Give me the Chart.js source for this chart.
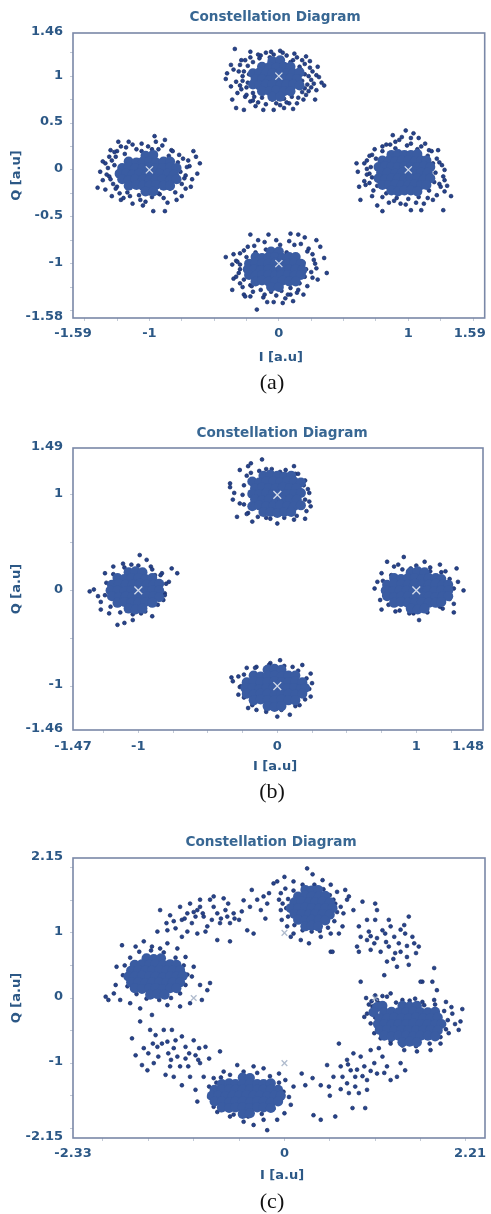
<!DOCTYPE html>
<html>
<head>
<meta charset="utf-8">
<title>Constellation Diagrams</title>
<script src="https://cdn.jsdelivr.net/npm/chart.js@4/dist/chart.umd.min.js"></script>
<style>
  html, body { margin: 0; padding: 0; background: #ffffff; }
  #page { position: relative; width: 491px; height: 1214px; background: #ffffff; overflow: hidden; }
  canvas { position: absolute; left: 0; }
</style>
</head>
<body>
<div id="page">
  <canvas id="panelA" width="491" height="400" style="top:0px"></canvas>
  <canvas id="panelB" width="491" height="410" style="top:400px"></canvas>
  <canvas id="panelC" width="491" height="404" style="top:810px"></canvas>
</div>
<script>
// ---------- Shared ----------
const IDEAL = [[0, 1], [1, 0], [0, -1], [-1, 0]];

// ---------- Panel (a) ----------
const A_X_LABELS = [-1.59, -1, 0, 1, 1.59];
const A_Y_LABELS = [-1.58, -1, -0.5, 0, 0.5, 1, 1.46];
const A_X_MINOR = [-1.5, -1.25, -1, -0.75, -0.5, -0.25, 0, 0.25, 0.5, 0.75, 1, 1.25, 1.5];
const A_Y_MINOR = [-1.5, -1.25, -1, -0.75, -0.5, -0.25, 0, 0.25, 0.5, 0.75, 1, 1.25];

const A_TOP_CORE = [
  [-0.05,1.16],[0.01,1.17],
  [-0.13,1.1],[-0.07,1.1],[-0.02,1.09],[0.04,1.1],[0.09,1.1],
  [-0.2,1.03],[-0.15,1.04],[-0.1,1.03],[-0.05,1.03],[0.01,1.04],[0.06,1.03],[0.11,1.03],[0.16,1.04],
  [-0.18,0.97],[-0.13,0.97],[-0.07,0.96],[-0.02,0.97],[0.04,0.97],[0.09,0.98],[0.14,0.97],
  [-0.2,0.91],[-0.15,0.9],[-0.1,0.91],[-0.05,0.91],[0.01,0.9],[0.06,0.91],[0.11,0.91],[0.16,0.9],
  [-0.13,0.84],[-0.07,0.84],[-0.02,0.85],[0.04,0.84],[0.09,0.84],
  [-0.05,0.78],[0.01,0.78]
];
const A_TOP_DOTS = [
  [-0.34,1.29],[-0.22,1.26],[0.01,1.27],[-0.40,1.03],[-0.41,0.97],[-0.37,0.89],[-0.36,0.75],[-0.33,0.66],
  [-0.27,0.64],[-0.18,0.68],[-0.12,0.64],[-0.04,0.64],[0.04,0.66],[0.11,0.65],[0.19,0.75],[0.28,0.75],
  [0.33,0.93],[0.35,0.9],[0.30,1.10],[0.24,1.16],[0.11,1.17],[0.06,1.22],[-0.37,1.12],[-0.31,1.05],
  [-0.26,1.17],[0.29,1.01],[0.23,0.84],[0.29,0.85],[-0.32,0.82],[-0.22,0.73],[0.01,0.69],[0.14,0.71],
  [-0.10,1.25],[-0.04,1.23],[0.16,1.1],[-0.26,0.78],[0.25,0.96],
  [-0.2,1.15],[-0.15,1.19],[-0.07,1.2],[0.02,1.19],[0.09,1.15],[0.17,1.07],[0.2,1.02],[0.22,0.91],
  [0.18,0.83],[0.1,0.78],[0.04,0.76],[-0.05,0.75],[-0.13,0.77],[-0.2,0.82],[-0.25,0.88],[-0.28,0.95],
  [-0.27,1.05],[-0.24,1.11],[-0.16,0.72],[0.08,0.71],[0.2,1.13],[-0.3,0.9],[0.26,1.05],[-0.14,1.22],[0.14,1.2],
  [-0.3,1.12],[-0.28,1.0],[-0.33,0.94],[-0.29,0.86],[-0.25,0.8],[-0.2,0.74],[-0.1,0.7],[-0.02,0.71],
  [0.06,0.72],[0.15,0.77],[0.21,0.8],[0.25,0.88],[0.27,0.92],[0.31,0.99],[0.23,1.0],[0.24,1.09],
  [0.18,1.17],[0.12,1.24],[0.03,1.25],[-0.06,1.26],[-0.16,1.23],[-0.22,1.2],[-0.29,1.17],[-0.35,1.07],
  [-0.24,0.93],[0.2,0.87],[0.18,0.95],[-0.23,1.02],[0.21,1.21],[-0.19,0.78]
];
const A_LEFT_CORE = [
  [-1.03,0.15],[-0.97,0.16],
  [-1.16,0.09],[-1.1,0.08],[-1.05,0.09],[-1.0,0.09],[-0.95,0.08],[-0.89,0.09],[-0.84,0.09],
  [-1.21,0.02],[-1.16,0.03],[-1.11,0.02],[-1.05,0.02],[-1.0,0.03],[-0.95,0.02],[-0.9,0.02],[-0.84,0.03],[-0.79,0.02],
  [-1.23,-0.04],[-1.18,-0.04],[-1.13,-0.05],[-1.08,-0.04],[-1.02,-0.04],[-0.97,-0.03],[-0.92,-0.04],[-0.86,-0.04],[-0.81,-0.05],
  [-1.21,-0.1],[-1.16,-0.11],[-1.11,-0.1],[-1.05,-0.1],[-1.0,-0.11],[-0.95,-0.1],[-0.9,-0.1],[-0.84,-0.11],[-0.79,-0.1],
  [-1.16,-0.17],[-1.1,-0.16],[-1.05,-0.17],[-1.0,-0.17],[-0.95,-0.16],[-0.89,-0.17],[-0.84,-0.17],
  [-1.03,-0.23],[-0.97,-0.23]
];
const A_LEFT_DOTS = [
  [-1.40,-0.19],[-1.38,-0.02],[-1.34,0.07],[-1.30,0.21],[-1.24,0.30],[-1.16,0.30],[-1.06,0.28],[-0.96,0.36],
  [-0.88,0.32],[-0.83,0.21],[-0.77,0.16],[-0.64,0.14],[-0.61,0.07],[-0.63,-0.04],[-0.68,-0.18],[-0.75,-0.28],
  [-0.79,-0.32],[-0.88,-0.44],[-0.97,-0.44],[-1.03,-0.34],[-1.13,-0.36],[-1.22,-0.32],[-1.29,-0.28],[-1.34,-0.21],
  [-1.36,-0.11],[-0.69,0.04],[-0.73,-0.09],[-1.26,0.14],[-1.31,-0.07],
  [-1.25,0.2],[-1.18,0.24],[-1.1,0.22],[-1.01,0.25],[-0.93,0.22],[-0.85,0.15],[-0.78,0.08],[-0.76,-0.02],
  [-0.78,-0.12],[-0.84,-0.2],[-0.92,-0.26],[-1.0,-0.25],[-1.08,-0.27],[-1.17,-0.24],[-1.25,-0.18],[-1.3,-0.1],
  [-1.32,0.02],[-1.29,0.1],[-0.7,0.1],[-0.72,-0.2],[-1.2,-0.3],[-0.95,0.3],[-1.05,-0.38],[-0.86,-0.35],
  [-1.31,0.14],[-1.27,0.19],[-1.22,0.25],[-1.13,0.27],[-1.06,0.2],[-0.98,0.22],[-0.9,0.26],[-0.82,0.2],
  [-0.74,0.12],[-0.71,0.03],[-0.72,-0.06],[-0.75,-0.15],[-0.8,-0.24],[-0.89,-0.3],[-0.98,-0.29],[-1.07,-0.32],
  [-1.15,-0.28],[-1.23,-0.25],[-1.28,-0.15],[-1.33,-0.05],[-1.27,0.05],[-1.19,0.17],[-0.86,0.11],[-1.26,-0.2],
  [-0.93,-0.25],[-1.36,0.09],[-0.67,-0.1],[-0.66,0.2]
];
const A_RIGHT_CORE = [
  [0.87,0.16],[0.92,0.17],[0.97,0.16],[1.02,0.16],[1.07,0.17],
  [0.8,0.1],[0.85,0.1],[0.9,0.09],[0.95,0.1],[1.0,0.1],[1.05,0.09],[1.1,0.1],[1.14,0.1],
  [0.77,0.03],[0.82,0.04],[0.87,0.03],[0.92,0.03],[0.97,0.04],[1.02,0.03],[1.07,0.03],[1.12,0.04],[1.17,0.03],
  [0.79,-0.03],[0.84,-0.03],[0.9,-0.04],[0.95,-0.03],[1.0,-0.03],[1.05,-0.02],[1.1,-0.03],[1.15,-0.03],
  [0.77,-0.09],[0.82,-0.1],[0.87,-0.09],[0.92,-0.09],[0.97,-0.1],[1.02,-0.09],[1.07,-0.09],[1.12,-0.1],[1.17,-0.09],
  [0.8,-0.16],[0.85,-0.16],[0.9,-0.15],[0.95,-0.16],[1.0,-0.16],[1.05,-0.15],[1.1,-0.16],[1.14,-0.16],
  [0.87,-0.22],[0.92,-0.23],[0.97,-0.22],[1.02,-0.22],[1.07,-0.23]
];
const A_RIGHT_DOTS = [
  [0.60,0.07],[0.61,-0.02],[0.62,-0.18],[0.63,-0.32],[0.72,0.16],[0.80,0.25],[0.86,0.27],[0.93,0.32],
  [0.98,0.42],[1.02,0.28],[1.08,0.34],[1.16,0.21],[1.23,0.21],[1.28,0.0],[1.28,-0.11],[1.33,-0.28],
  [1.28,-0.23],[1.27,-0.43],[1.19,-0.32],[1.10,-0.43],[1.02,-0.43],[0.94,-0.36],[0.80,-0.44],[0.72,-0.28],
  [0.67,-0.16],[0.70,-0.04],[0.66,0.07],
  [0.75,0.12],[0.8,0.2],[0.9,0.23],[0.99,0.26],[1.07,0.22],[1.15,0.15],[1.19,0.07],[1.21,-0.03],
  [1.2,-0.13],[1.16,-0.22],[1.08,-0.29],[1.0,-0.31],[0.91,-0.3],[0.83,-0.25],[0.76,-0.17],[0.72,-0.08],
  [0.71,0.03],[0.68,0.1],[1.24,0.08],[1.25,-0.18],[0.85,-0.35],[1.12,-0.36],[0.95,0.35],[1.13,0.28],
  [0.68,-0.05],[0.66,-0.12],[0.7,0.15],[0.74,0.22],[0.83,0.27],[0.9,0.3],[1.02,0.34],[1.1,0.25],
  [1.18,0.2],[1.22,0.12],[1.26,0.05],[1.27,-0.07],[1.24,-0.15],[1.22,-0.27],[1.15,-0.3],[1.06,-0.35],
  [0.98,-0.37],[0.89,-0.33],[0.8,-0.29],[0.73,-0.22],[0.7,-0.14],[0.68,0.01],[1.3,-0.17],[0.76,-0.38],
  [1.04,0.39],[0.88,0.37]
];
const A_BOTTOM_CORE = [
  [-0.06,-0.87],[0.0,-0.87],
  [-0.18,-0.93],[-0.13,-0.94],[-0.08,-0.93],[-0.03,-0.93],[0.03,-0.94],[0.08,-0.93],[0.13,-0.93],
  [-0.23,-1.0],[-0.18,-0.99],[-0.13,-1.0],[-0.08,-1.0],[-0.03,-0.99],[0.02,-1.0],[0.07,-1.0],[0.12,-0.99],[0.17,-1.0],
  [-0.24,-1.06],[-0.19,-1.06],[-0.14,-1.07],[-0.08,-1.06],[-0.03,-1.06],[0.02,-1.05],[0.08,-1.06],[0.13,-1.06],[0.18,-1.07],
  [-0.23,-1.12],[-0.18,-1.13],[-0.13,-1.12],[-0.08,-1.12],[-0.03,-1.13],[0.02,-1.12],[0.07,-1.12],[0.12,-1.13],[0.17,-1.12],
  [-0.18,-1.19],[-0.13,-1.18],[-0.08,-1.19],[-0.03,-1.19],[0.03,-1.18],[0.08,-1.19],[0.13,-1.19],
  [-0.06,-1.25],[0.0,-1.25]
];
const A_BOTTOM_DOTS = [
  [-0.41,-0.93],[-0.36,-1.01],[-0.35,-1.16],[-0.36,-1.28],[-0.27,-1.33],[-0.22,-1.35],[-0.17,-1.49],[-0.09,-1.41],
  [0.03,-1.42],[0.09,-1.33],[0.19,-1.33],[0.30,-1.17],[0.37,-1.10],[0.35,-0.94],[0.29,-0.75],[0.23,-0.84],
  [0.15,-0.69],[0.09,-0.68],[0.01,-0.80],[-0.08,-0.69],[-0.16,-0.75],[-0.22,-0.69],[-0.24,-0.82],[-0.30,-0.89],
  [0.28,-1.0],[0.25,-1.09],[-0.30,-1.21],[-0.22,-1.23],
  [-0.25,-0.93],[-0.18,-0.88],[-0.1,-0.85],[-0.02,-0.86],[0.06,-0.88],[0.13,-0.93],[0.19,-0.99],[0.21,-1.06],
  [0.2,-1.14],[0.16,-1.21],[0.09,-1.26],[0.02,-1.29],[-0.06,-1.3],[-0.14,-1.28],[-0.21,-1.24],[-0.27,-1.17],
  [-0.31,-1.1],[-0.3,-1.01],[0.12,-0.8],[-0.12,-1.36],[0.15,-1.28],[0.26,-0.9],[-0.33,-0.97],[0.05,-1.37],
  [-0.32,-0.98],[-0.3,-1.06],[-0.33,-1.14],[-0.28,-1.25],[-0.2,-1.3],[-0.11,-1.33],[-0.02,-1.34],[0.07,-1.33],
  [0.14,-1.31],[0.22,-1.24],[0.26,-1.15],[0.29,-1.05],[0.27,-0.96],[0.22,-0.87],[0.17,-0.79],[0.08,-0.76],
  [-0.02,-0.75],[-0.11,-0.77],[-0.19,-0.81],[-0.27,-0.86],[-0.35,-0.9],[0.32,-0.82],[-0.26,-1.35],[0.2,-0.72],
  [-0.04,-1.41],[0.11,-1.4]
];

// ---------- Panel (b) ----------
const B_X_LABELS = [-1.47, -1, 0, 1, 1.48];
const B_Y_LABELS = [-1.46, -1, 0, 1, 1.49];
const B_X_MINOR = [-1.25, -1, -0.75, -0.5, -0.25, 0, 0.25, 0.5, 0.75, 1, 1.25];
const B_Y_MINOR = [-1, -0.5, 0, 0.5, 1];

const B_TOP_CORE = [
  [-0.1,1.2],[-0.05,1.21],[0.0,1.2],[0.05,1.19],[0.1,1.2],
  [-0.18,1.14],[-0.13,1.13],[-0.08,1.14],[-0.03,1.14],[0.02,1.13],[0.07,1.14],[0.12,1.14],[0.17,1.13],
  [-0.16,1.07],[-0.11,1.08],[-0.06,1.07],[-0.01,1.07],[0.04,1.08],[0.09,1.07],[0.14,1.07],
  [-0.18,1.01],[-0.13,1.01],[-0.08,1.02],[-0.03,1.01],[0.02,1.0],[0.07,1.01],[0.12,1.01],[0.17,1.02],
  [-0.16,0.95],[-0.11,0.94],[-0.06,0.95],[-0.01,0.95],[0.04,0.94],[0.09,0.95],[0.14,0.95],
  [-0.18,0.88],[-0.13,0.89],[-0.08,0.88],[-0.03,0.88],[0.02,0.89],[0.07,0.88],[0.12,0.88],[0.17,0.89],
  [-0.1,0.82],[-0.05,0.82],[0.0,0.81],[0.05,0.82],[0.1,0.82]
];
const B_TOP_DOTS = [
  [-0.34,1.08],[-0.34,1.12],[-0.32,0.95],[-0.29,0.77],[-0.27,1.26],[-0.21,1.30],[-0.19,1.33],[-0.11,1.37],
  [-0.08,1.27],[0.02,1.24],[0.12,1.30],[0.13,1.22],[0.19,1.10],[0.23,1.02],[0.24,0.88],[0.20,0.75],
  [0.12,0.74],[0.0,0.70],[-0.08,0.76],[-0.18,0.72],[-0.21,0.81],[-0.31,1.02],[0.20,0.95],[-0.27,0.91],
  [-0.22,1.2],[-0.24,1.1],[-0.25,1.0],[-0.24,0.9],[-0.22,0.8],[-0.14,0.77],[-0.05,0.75],[0.05,0.76],
  [0.14,0.78],[0.21,0.83],[0.23,0.93],[0.22,1.06],[0.2,1.15],[0.15,1.22],[0.06,1.26],[-0.04,1.27],
  [-0.13,1.25],[-0.19,1.23]
];
const B_LEFT_CORE = [
  [-1.07,0.19],[-1.02,0.2],[-0.97,0.19],
  [-1.15,0.13],[-1.1,0.12],[-1.05,0.13],[-1.0,0.13],[-0.95,0.12],[-0.9,0.13],
  [-1.19,0.06],[-1.14,0.07],[-1.09,0.06],[-1.04,0.06],[-0.99,0.07],[-0.94,0.06],[-0.89,0.06],[-0.85,0.07],
  [-1.2,0.0],[-1.15,0.0],[-1.1,-0.01],[-1.05,0.0],[-1.0,0.0],[-0.95,-0.01],[-0.9,0.0],[-0.85,0.0],
  [-1.19,-0.06],[-1.14,-0.07],[-1.09,-0.06],[-1.04,-0.06],[-0.99,-0.07],[-0.94,-0.06],[-0.89,-0.06],[-0.85,-0.07],
  [-1.15,-0.13],[-1.1,-0.12],[-1.05,-0.13],[-1.0,-0.13],[-0.95,-0.12],[-0.9,-0.13],
  [-1.07,-0.19],[-1.02,-0.2],[-0.97,-0.19]
];
const B_LEFT_DOTS = [
  [-1.35,-0.01],[-1.32,0.01],[-1.29,-0.06],[-1.27,-0.20],[-1.24,0.18],[-1.18,0.25],[-1.11,0.28],[-1.05,0.27],
  [-0.99,0.37],[-0.94,0.32],[-0.91,0.25],[-0.88,0.16],[-0.83,0.18],[-0.76,0.23],[-0.72,0.18],[-0.78,0.09],
  [-0.81,-0.03],[-0.82,-0.10],[-0.90,-0.27],[-0.98,-0.24],[-1.04,-0.31],[-1.10,-0.34],[-1.15,-0.36],[-1.21,-0.24],
  [-1.27,-0.12],
  [-1.23,0.08],[-1.24,-0.05],[-1.2,-0.17],[-1.13,-0.23],[-1.04,-0.25],[-0.95,-0.22],[-0.86,-0.15],[-0.81,-0.05],
  [-0.8,0.07],[-0.84,0.16],[-0.9,0.22],[-1.0,0.26],[-1.1,0.24],[-1.18,0.17]
];
const B_RIGHT_CORE = [
  [0.96,0.19],[1.01,0.2],[1.06,0.19],
  [0.84,0.13],[0.89,0.12],[0.94,0.13],[0.99,0.13],[1.04,0.12],[1.09,0.13],[1.14,0.13],[1.18,0.12],
  [0.79,0.06],[0.84,0.07],[0.89,0.06],[0.94,0.06],[0.99,0.07],[1.04,0.06],[1.09,0.06],[1.14,0.07],[1.19,0.06],[1.23,0.06],
  [0.78,0.0],[0.83,-0.01],[0.88,0.0],[0.93,0.0],[0.98,-0.01],[1.03,0.0],[1.08,0.0],[1.13,-0.01],[1.18,0.0],[1.23,0.0],
  [0.79,-0.06],[0.84,-0.07],[0.89,-0.06],[0.94,-0.06],[0.99,-0.07],[1.04,-0.06],[1.09,-0.06],[1.14,-0.07],[1.19,-0.06],[1.23,-0.06],
  [0.84,-0.13],[0.89,-0.12],[0.94,-0.13],[0.99,-0.13],[1.04,-0.12],[1.09,-0.13],[1.14,-0.13],[1.18,-0.12],
  [0.96,-0.19],[1.01,-0.2],[1.06,-0.19]
];
const B_RIGHT_DOTS = [
  [0.70,0.02],[0.72,0.09],[0.75,0.18],[0.79,0.30],[0.84,0.25],[0.87,0.27],[0.91,0.35],[0.96,0.23],
  [1.06,0.30],[1.10,0.20],[1.17,0.27],[1.21,0.20],[1.29,0.23],[1.30,0.09],[1.34,0.0],[1.27,-0.14],
  [1.27,-0.23],[1.19,-0.19],[1.02,-0.31],[0.95,-0.24],[0.85,-0.22],[0.75,-0.20],[0.74,-0.10],
  [0.76,0.1],[0.77,-0.05],[0.8,-0.15],[0.88,-0.21],[0.98,-0.24],[1.08,-0.23],[1.17,-0.17],[1.24,-0.09],
  [1.27,0.02],[1.24,0.12],[1.18,0.19],[1.1,0.24],[1.0,0.26],[0.9,0.22],[0.82,0.16]
];
const B_BOTTOM_CORE = [
  [-0.07,-0.83],[-0.02,-0.82],[0.03,-0.83],
  [-0.17,-0.89],[-0.12,-0.9],[-0.07,-0.89],[-0.02,-0.89],[0.03,-0.9],[0.08,-0.89],[0.13,-0.89],
  [-0.22,-0.96],[-0.17,-0.95],[-0.12,-0.96],[-0.07,-0.96],[-0.02,-0.95],[0.03,-0.96],[0.08,-0.96],[0.13,-0.95],[0.18,-0.96],
  [-0.23,-1.02],[-0.18,-1.02],[-0.13,-1.03],[-0.08,-1.02],[-0.03,-1.02],[0.02,-1.01],[0.07,-1.02],[0.12,-1.02],[0.17,-1.03],[0.2,-1.02],
  [-0.22,-1.08],[-0.17,-1.09],[-0.12,-1.08],[-0.07,-1.08],[-0.02,-1.09],[0.03,-1.08],[0.08,-1.08],[0.13,-1.09],[0.18,-1.08],
  [-0.17,-1.15],[-0.12,-1.14],[-0.07,-1.15],[-0.02,-1.15],[0.03,-1.14],[0.08,-1.15],[0.13,-1.15],
  [-0.07,-1.21],[-0.02,-1.22],[0.03,-1.21]
];
const B_BOTTOM_DOTS = [
  [-0.33,-0.91],[-0.32,-0.95],[-0.28,-1.09],[-0.27,-1.01],[-0.21,-1.23],[-0.15,-1.25],[-0.08,-1.27],[0.0,-1.32],
  [0.09,-1.30],[0.16,-1.20],[0.24,-1.11],[0.25,-0.97],[0.24,-0.87],[0.18,-0.78],[0.11,-0.80],[0.02,-0.73],
  [-0.05,-0.76],[-0.15,-0.80],[-0.22,-0.81],[-0.28,-0.90],
  [-0.24,-0.88],[-0.26,-1.0],[-0.24,-1.12],[-0.18,-1.2],[-0.08,-1.24],[0.03,-1.25],[0.13,-1.21],[0.2,-1.14],
  [0.23,-1.03],[0.21,-0.92],[0.15,-0.84],[0.05,-0.79],[-0.06,-0.78],[-0.16,-0.81]
];

// ---------- Panel (c) ----------
const C_X_LABELS = [-2.33, 0, 2.21];
const C_Y_LABELS = [-2.15, -1, 0, 1, 2.15];
const C_X_MINOR = [-2, -1.5, -1, -0.5, 0, 0.5, 1, 1.5, 2];
const C_Y_MINOR = [-2, -1.5, -1, -0.5, 0, 0.5, 1, 1.5, 2];

const C_TOP_CORE = [
  [0.23,1.66],[0.3,1.65],[0.37,1.66],
  [0.15,1.56],[0.23,1.57],[0.3,1.56],[0.38,1.56],[0.45,1.57],
  [0.11,1.47],[0.19,1.48],[0.27,1.47],[0.34,1.47],[0.42,1.48],[0.5,1.47],
  [0.07,1.38],[0.15,1.38],[0.23,1.39],[0.3,1.38],[0.38,1.37],[0.45,1.38],[0.53,1.38],
  [0.11,1.29],[0.19,1.29],[0.27,1.28],[0.34,1.29],[0.42,1.29],[0.5,1.28],
  [0.15,1.2],[0.23,1.19],[0.3,1.2],[0.38,1.2],[0.45,1.19],
  [0.23,1.1],[0.3,1.11],[0.37,1.1]
];
const C_TOP_DOTS = [
  [0.25,1.99],[0.31,1.90],[-0.08,1.79],[0.0,1.86],[0.42,1.81],[0.51,1.74],[0.58,1.63],[0.67,1.66],
  [0.69,1.51],[0.71,1.56],[0.65,1.30],[0.64,1.10],[0.60,0.99],[0.51,0.99],[0.40,0.94],[0.27,0.84],
  [0.18,0.89],[0.10,0.99],[0.03,1.10],[-0.03,1.20],[-0.04,1.35],[-0.06,1.51],[-0.04,1.61],[0.01,1.68],
  [0.10,1.79],[0.51,0.71],[0.54,1.51],[0.07,0.94],
  [0.1,1.65],[0.2,1.74],[0.33,1.74],[0.43,1.67],[0.5,1.58],[0.56,1.45],[0.58,1.32],[0.55,1.18],
  [0.48,1.08],[0.39,1.03],[0.3,1.02],[0.2,1.04],[0.11,1.12],[0.04,1.25],[0.02,1.38],[0.04,1.52],
  [0.62,1.4],[-0.02,1.45]
];
const C_LEFT_CORE = [
  [-1.52,0.61],[-1.44,0.6],[-1.36,0.61],
  [-1.65,0.51],[-1.57,0.52],[-1.49,0.51],[-1.42,0.52],[-1.34,0.51],[-1.26,0.52],[-1.19,0.51],
  [-1.69,0.42],[-1.61,0.43],[-1.53,0.42],[-1.46,0.42],[-1.38,0.43],[-1.3,0.42],[-1.23,0.42],[-1.15,0.43],
  [-1.72,0.33],[-1.65,0.33],[-1.57,0.34],[-1.49,0.33],[-1.42,0.33],[-1.34,0.32],[-1.26,0.33],[-1.19,0.33],[-1.12,0.34],
  [-1.69,0.24],[-1.61,0.24],[-1.53,0.23],[-1.46,0.24],[-1.38,0.24],[-1.3,0.23],[-1.23,0.24],[-1.15,0.24],
  [-1.65,0.15],[-1.57,0.14],[-1.49,0.15],[-1.42,0.15],[-1.34,0.14],[-1.26,0.15],[-1.19,0.15],
  [-1.48,0.05],[-1.4,0.06],[-1.32,0.05]
];
const C_LEFT_DOTS = [
  [-1.97,0.02],[-1.94,-0.03],[-1.86,0.20],[-1.85,0.48],[-1.79,0.81],[-1.64,0.79],[-1.55,0.87],[-1.46,0.79],
  [-1.37,0.76],[-1.29,0.84],[-1.18,0.76],[-1.09,0.63],[-1.0,0.48],[-1.02,0.33],[-0.93,0.20],[-0.82,0.23],
  [-0.85,0.12],[-0.91,-0.03],[-1.04,-0.08],[-1.15,-0.13],[-1.29,-0.11],[-1.46,-0.26],[-1.59,-0.16],[-1.70,-0.08],
  [-1.81,-0.03],[-1.88,0.07],
  [-1.78,0.35],[-1.76,0.5],[-1.7,0.62],[-1.6,0.71],[-1.47,0.73],[-1.33,0.7],[-1.2,0.62],[-1.11,0.5],
  [-1.07,0.36],[-1.09,0.2],[-1.15,0.07],[-1.25,0.0],[-1.38,-0.03],[-1.52,-0.01],[-1.63,0.06],[-1.73,0.18]
];
const C_RIGHT_CORE = [
  [1.3,-0.12],[1.38,-0.13],[1.46,-0.12],[1.02,-0.14],[1.08,-0.12],[0.98,-0.22],
  [1.1,-0.22],[1.18,-0.21],[1.26,-0.22],[1.34,-0.22],[1.42,-0.21],[1.5,-0.22],[1.58,-0.22],[1.66,-0.21],
  [1.05,-0.31],[1.13,-0.31],[1.21,-0.3],[1.29,-0.31],[1.37,-0.31],[1.45,-0.3],[1.53,-0.31],[1.61,-0.31],[1.69,-0.3],
  [1.03,-0.4],[1.1,-0.4],[1.18,-0.41],[1.26,-0.4],[1.34,-0.4],[1.42,-0.39],[1.5,-0.4],[1.58,-0.4],[1.66,-0.41],[1.73,-0.4],
  [1.05,-0.49],[1.13,-0.49],[1.21,-0.5],[1.29,-0.49],[1.37,-0.49],[1.45,-0.5],[1.53,-0.49],[1.61,-0.49],[1.69,-0.5],
  [1.1,-0.58],[1.18,-0.59],[1.26,-0.58],[1.34,-0.58],[1.42,-0.59],[1.5,-0.58],[1.58,-0.58],[1.66,-0.59],
  [1.3,-0.68],[1.38,-0.67],[1.46,-0.68]
];
const C_RIGHT_DOTS = [
  [0.88,-0.29],[0.91,-0.24],[0.97,-0.13],[1.02,-0.03],[1.13,0.02],[1.17,0.07],[1.30,-0.03],[1.44,-0.01],
  [1.54,-0.11],[1.65,-0.03],[1.68,0.12],[1.78,-0.06],[1.85,-0.24],[1.96,-0.17],[1.94,-0.36],[1.92,-0.49],
  [1.81,-0.54],[1.72,-0.70],[1.61,-0.80],[1.46,-0.82],[1.32,-0.80],[1.17,-0.70],[1.06,-0.62],[0.99,-0.54],
  [0.95,-0.39],[1.63,0.25],[1.52,0.25],
  [1.0,-0.3],[1.02,-0.45],[1.07,-0.58],[1.17,-0.66],[1.3,-0.73],[1.45,-0.74],[1.6,-0.7],[1.72,-0.6],
  [1.78,-0.48],[1.8,-0.34],[1.76,-0.2],[1.66,-0.1],[1.52,-0.06],[1.38,-0.04],[1.23,-0.07],[1.1,-0.14],
  [1.88,-0.4],[1.84,-0.14],
  [0.96,-0.05],[1.0,0.04],[1.04,-0.08],[0.93,-0.1],[1.08,0.03],[0.98,-0.18],[1.06,-0.15],[0.9,0.0]
];
const C_BOTTOM_CORE = [
  [-0.46,-1.22],[-0.38,-1.23],
  [-0.69,-1.32],[-0.61,-1.31],[-0.54,-1.32],[-0.46,-1.32],[-0.38,-1.31],[-0.3,-1.32],[-0.23,-1.32],[-0.15,-1.31],
  [-0.77,-1.41],[-0.69,-1.41],[-0.61,-1.4],[-0.54,-1.41],[-0.46,-1.41],[-0.38,-1.4],[-0.3,-1.41],[-0.23,-1.41],[-0.15,-1.4],[-0.07,-1.41],
  [-0.8,-1.5],[-0.73,-1.5],[-0.65,-1.51],[-0.57,-1.5],[-0.5,-1.5],[-0.42,-1.49],[-0.34,-1.5],[-0.27,-1.5],[-0.19,-1.51],[-0.11,-1.5],[-0.04,-1.5],
  [-0.77,-1.59],[-0.69,-1.59],[-0.61,-1.6],[-0.54,-1.59],[-0.46,-1.59],[-0.38,-1.6],[-0.3,-1.59],[-0.23,-1.59],[-0.15,-1.6],[-0.07,-1.59],
  [-0.69,-1.68],[-0.61,-1.69],[-0.54,-1.68],[-0.46,-1.68],[-0.38,-1.69],[-0.3,-1.68],[-0.23,-1.68],[-0.15,-1.69],
  [-0.46,-1.78],[-0.38,-1.77]
];
const C_BOTTOM_DOTS = [
  [-0.98,-1.41],[-0.96,-1.59],[-0.83,-1.36],[-0.83,-1.52],[-0.78,-1.67],[-0.74,-1.75],[-0.60,-1.82],[-0.45,-1.90],
  [-0.34,-1.95],[-0.23,-1.87],[-0.19,-2.03],[-0.08,-1.87],[0.0,-1.77],[0.07,-1.64],[0.05,-1.52],[0.10,-1.36],
  [0.01,-1.26],[-0.06,-1.16],[-0.23,-1.08],[-0.34,-1.05],[-0.52,-1.03],[-0.67,-1.13],[-0.78,-1.23],[-0.71,-0.82],
  [-0.75,-1.3],[-0.8,-1.45],[-0.78,-1.6],[-0.7,-1.72],[-0.56,-1.79],[-0.4,-1.82],[-0.25,-1.78],[-0.12,-1.7],
  [-0.04,-1.58],[-0.01,-1.44],[-0.06,-1.3],[-0.16,-1.2],[-0.3,-1.15],[-0.45,-1.13],[-0.6,-1.18],[-0.7,-1.22]
];
// Scattered symbols on the ring between the four clusters
const C_RING_DOTS = [
  // upper left
  [-1.37,1.35],[-1.26,1.27],[-1.40,1.02],[-1.29,1.04],[-1.20,1.07],[-1.15,1.40],[-1.07,1.30],[-1.04,1.45],
  [-0.96,1.35],[-0.93,1.40],[-1.02,1.15],[-1.07,1.02],[-0.96,0.99],[-0.89,1.25],[-0.82,1.51],[-0.78,1.40],
  [-0.74,1.30],[-0.67,1.53],[-0.63,1.25],[-0.60,1.15],[-0.56,1.30],[-0.50,1.20],[-0.47,1.33],[-0.74,0.89],
  [-0.60,0.87],[-0.85,1.10],[-1.13,0.94],[-0.71,1.15],[-0.41,1.04],[-0.34,0.99],[-0.36,1.66],[-0.38,1.40],
  [-0.23,1.56],[-0.19,1.45],[-0.26,1.35],[-0.30,1.51],[-0.21,1.22],[-0.17,1.61],[-0.12,1.76],[-0.78,1.56],
  [-0.93,1.51],[-0.87,1.02],[-1.13,1.20],
  [-1.0,1.32],[-0.98,1.25],[-1.1,1.22],[-0.9,1.3],[-0.7,1.22],[-0.65,1.35],[-0.55,1.22],[-0.8,1.2],
  [-1.22,1.18],[-1.3,1.15],[-0.45,1.5],[-0.62,1.45],
  // upper right
  [0.86,1.48],[1.0,1.45],[1.02,1.35],[0.91,1.20],[0.82,1.10],[0.84,0.94],[0.80,0.79],[0.82,0.71],
  [0.91,0.89],[0.95,0.74],[1.02,0.92],[1.11,0.99],[1.17,1.10],[1.21,0.94],[1.26,0.84],[1.33,0.99],
  [1.37,1.25],[1.32,1.12],[1.41,0.94],[1.48,0.79],[1.45,0.69],[1.35,0.63],[1.37,0.51],[1.24,0.48],
  [1.13,0.56],[1.06,0.71],[1.10,0.35],[0.84,0.25],[1.65,0.46],[1.50,0.25],[0.99,0.84],[1.28,0.71],
  [1.15,0.79],[1.08,1.04],[0.93,1.02],[1.43,0.84],[1.22,0.69],[0.76,1.35],[0.53,0.71],
  [1.0,1.2],[1.15,1.2],[1.28,1.05],[1.35,0.8],[1.12,0.86],[0.95,0.95],[1.2,0.6],
  // lower right
  [0.19,-1.16],[0.23,-1.34],[0.31,-1.23],[0.32,-1.80],[0.40,-1.87],[0.47,-1.03],[0.49,-1.36],[0.56,-1.82],
  [0.60,-0.70],[0.62,-1.05],[0.64,-1.21],[0.69,-1.31],[0.69,-0.95],[0.73,-1.11],[0.76,-0.85],[0.78,-1.21],
  [0.82,-1.46],[0.75,-1.69],[0.84,-0.90],[0.88,-1.05],[0.89,-1.69],[0.91,-1.26],[0.95,-0.80],[0.99,-1.0],
  [1.02,-1.16],[1.08,-0.90],[1.13,-1.05],[1.17,-1.26],[1.24,-1.21],[1.28,-1.0],[1.33,-1.11],[0.78,-1.36],
  [0.71,-1.46],[0.40,-1.34],[0.54,-1.21],[1.04,-0.77],[0.91,-1.41],
  [0.8,-1.1],[0.86,-1.2],[0.95,-1.12],[1.1,-1.15],[0.7,-1.02],[0.62,-1.4],[0.5,-1.5],
  // lower left
  [-1.68,-0.62],[-1.64,-0.88],[-1.59,-0.36],[-1.55,-0.77],[-1.57,-1.03],[-1.51,-1.11],[-1.48,-0.49],[-1.42,-0.57],
  [-1.40,-0.75],[-1.39,-0.90],[-1.33,-0.49],[-1.29,-0.67],[-1.28,-0.85],[-1.31,-1.18],[-1.24,-0.49],[-1.22,-0.77],
  [-1.18,-0.90],[-1.22,-1.21],[-1.13,-1.34],[-1.13,-0.59],[-1.09,-0.75],[-1.09,-0.93],[-1.06,-1.05],[-1.0,-0.65],
  [-0.98,-0.88],[-0.94,-0.77],[-0.93,-1.0],[-0.87,-0.75],[-0.83,-0.93],[-1.15,-1.05],[-1.44,-1.0],[-1.26,-1.05],
  [-1.50,-0.85],[-1.04,-1.21],[-0.89,-1.21],
  [-1.35,-0.7],[-1.2,-0.65],[-1.05,-0.85],[-1.25,-0.95],[-1.45,-0.7],[-0.95,-0.95]
];

// ---------- Drawing ----------
const toXY = pts => pts.map(([x, y]) => ({ x, y }));

const TEXT_BLUE = '#2c5886';
const TITLE_BLUE = '#386793';

// Frame, tick labels, titles and caption drawn around each chart area
const framePlugin = {
  id: 'frame',
  afterDraw(chart, args, o) {
    const { ctx, chartArea: a, scales } = chart;
    const sx = scales.x, sy = scales.y;
    ctx.save();
    ctx.strokeStyle = '#7a88a7';
    ctx.lineWidth = 1.6;
    ctx.strokeRect(a.left, a.top, a.right - a.left, a.bottom - a.top);

    ctx.font = 'bold 13.6px "DejaVu Sans"';
    ctx.fillStyle = TITLE_BLUE;
    ctx.textAlign = 'center';
    ctx.textBaseline = 'middle';
    ctx.fillText('Constellation Diagram', o.titleX, a.top - o.titleGap);

    ctx.font = 'bold 13px "DejaVu Sans"';
    ctx.fillStyle = TEXT_BLUE;
    o.xLabels.forEach((v, i) => {
      const last = i === o.xLabels.length - 1;
      ctx.textAlign = last ? 'right' : 'center';
      const px = last ? a.right + 1 : sx.getPixelForValue(v);
      ctx.fillText(String(v), px, a.bottom + o.xLabelGap);
    });
    ctx.textAlign = 'right';
    o.yLabels.forEach(v => {
      ctx.fillText(String(v), a.left - 10, sy.getPixelForValue(v) - 1);
    });

    ctx.textAlign = 'center';
    ctx.fillText('I [a.u]', (a.left + a.right) / 2 + o.xTitleShift, a.bottom + o.xTitleGap);
    ctx.save();
    ctx.translate(17, (a.top + a.bottom) / 2);
    ctx.rotate(-Math.PI / 2);
    ctx.fillText('Q [a.u]', 0, 0);
    ctx.restore();

    ctx.fillStyle = '#111111';
    ctx.font = '22px "Liberation Serif"';
    ctx.fillText(o.caption, 272, a.bottom + o.captionGap);
    ctx.restore();
  }
};

function axis(min, max, minor) {
  return {
    type: 'linear',
    min, max,
    afterBuildTicks: s => { s.ticks = minor.map(v => ({ value: v })); },
    ticks: { display: false },
    title: { display: false },
    border: { display: false },
    grid: { drawOnChartArea: false, drawTicks: true, tickLength: 3, color: '#c3cad6', lineWidth: 1 }
  };
}

function makePanel(id, cfg) {
  return new Chart(document.getElementById(id), {
    type: 'scatter',
    data: {
      datasets: [
        {
          label: 'ideal',
          data: toXY(IDEAL),
          pointStyle: 'crossRot',
          pointRadius: cfg.idealRadius,
          borderColor: cfg.idealColor,
          borderWidth: 1.3,
          backgroundColor: 'transparent'
        },
        {
          label: 'core',
          data: toXY(cfg.core),
          pointRadius: cfg.coreRadius,
          backgroundColor: '#3a5ca2',
          borderWidth: 0
        },
        {
          label: 'samples',
          data: toXY(cfg.dots),
          pointRadius: 1.9,
          backgroundColor: '#27438c',
          borderColor: '#1a2f66',
          borderWidth: 0.7
        }
      ]
    },
    options: {
      responsive: false,
      animation: false,
      events: [],
      layout: { padding: cfg.padding },
      scales: {
        x: axis(cfg.xMin, cfg.xMax, cfg.xMinor),
        y: axis(cfg.yMin, cfg.yMax, cfg.yMinor)
      },
      plugins: {
        legend: { display: false },
        tooltip: { enabled: false },
        frame: cfg.frame
      }
    },
    plugins: [framePlugin]
  });
}

makePanel('panelA', {
  xMin: -1.59, xMax: 1.59, yMin: -1.58, yMax: 1.46,
  xMinor: A_X_MINOR, yMinor: A_Y_MINOR,
  core: [...A_TOP_CORE, ...A_LEFT_CORE, ...A_RIGHT_CORE, ...A_BOTTOM_CORE],
  dots: [...A_TOP_DOTS, ...A_LEFT_DOTS, ...A_RIGHT_DOTS, ...A_BOTTOM_DOTS],
  coreRadius: 5, idealRadius: 5, idealColor: '#d3dbea',
  padding: { left: 70, right: 3, top: 33, bottom: 79 },
  frame: { titleX: 275, titleGap: 16, xLabels: A_X_LABELS, yLabels: A_Y_LABELS,
           xLabelGap: 16, xTitleGap: 40, xTitleShift: 2, captionGap: 65, caption: '(a)' }
});

makePanel('panelB', {
  xMin: -1.47, xMax: 1.48, yMin: -1.46, yMax: 1.49,
  xMinor: B_X_MINOR, yMinor: B_Y_MINOR,
  core: [...B_TOP_CORE, ...B_LEFT_CORE, ...B_RIGHT_CORE, ...B_BOTTOM_CORE],
  dots: [...B_TOP_DOTS, ...B_LEFT_DOTS, ...B_RIGHT_DOTS, ...B_BOTTOM_DOTS],
  coreRadius: 5, idealRadius: 5.5, idealColor: '#d3dbea',
  padding: { left: 70, right: 8, top: 48, bottom: 77 },
  frame: { titleX: 282, titleGap: 15, xLabels: B_X_LABELS, yLabels: B_Y_LABELS,
           xLabelGap: 17, xTitleGap: 37, xTitleShift: -3, captionGap: 62, caption: '(b)' }
});

makePanel('panelC', {
  xMin: -2.33, xMax: 2.21, yMin: -2.15, yMax: 2.15,
  xMinor: C_X_MINOR, yMinor: C_Y_MINOR,
  core: [...C_TOP_CORE, ...C_LEFT_CORE, ...C_RIGHT_CORE, ...C_BOTTOM_CORE],
  dots: [...C_TOP_DOTS, ...C_LEFT_DOTS, ...C_RIGHT_DOTS, ...C_BOTTOM_DOTS, ...C_RING_DOTS],
  coreRadius: 5, idealRadius: 4, idealColor: 'rgba(150,165,190,0.75)',
  padding: { left: 70, right: 6, top: 48, bottom: 73 },
  frame: { titleX: 271, titleGap: 16, xLabels: C_X_LABELS, yLabels: C_Y_LABELS,
           xLabelGap: 16, xTitleGap: 38, xTitleShift: 3, captionGap: 64, caption: '(c)' }
});
</script>
</body>
</html>
